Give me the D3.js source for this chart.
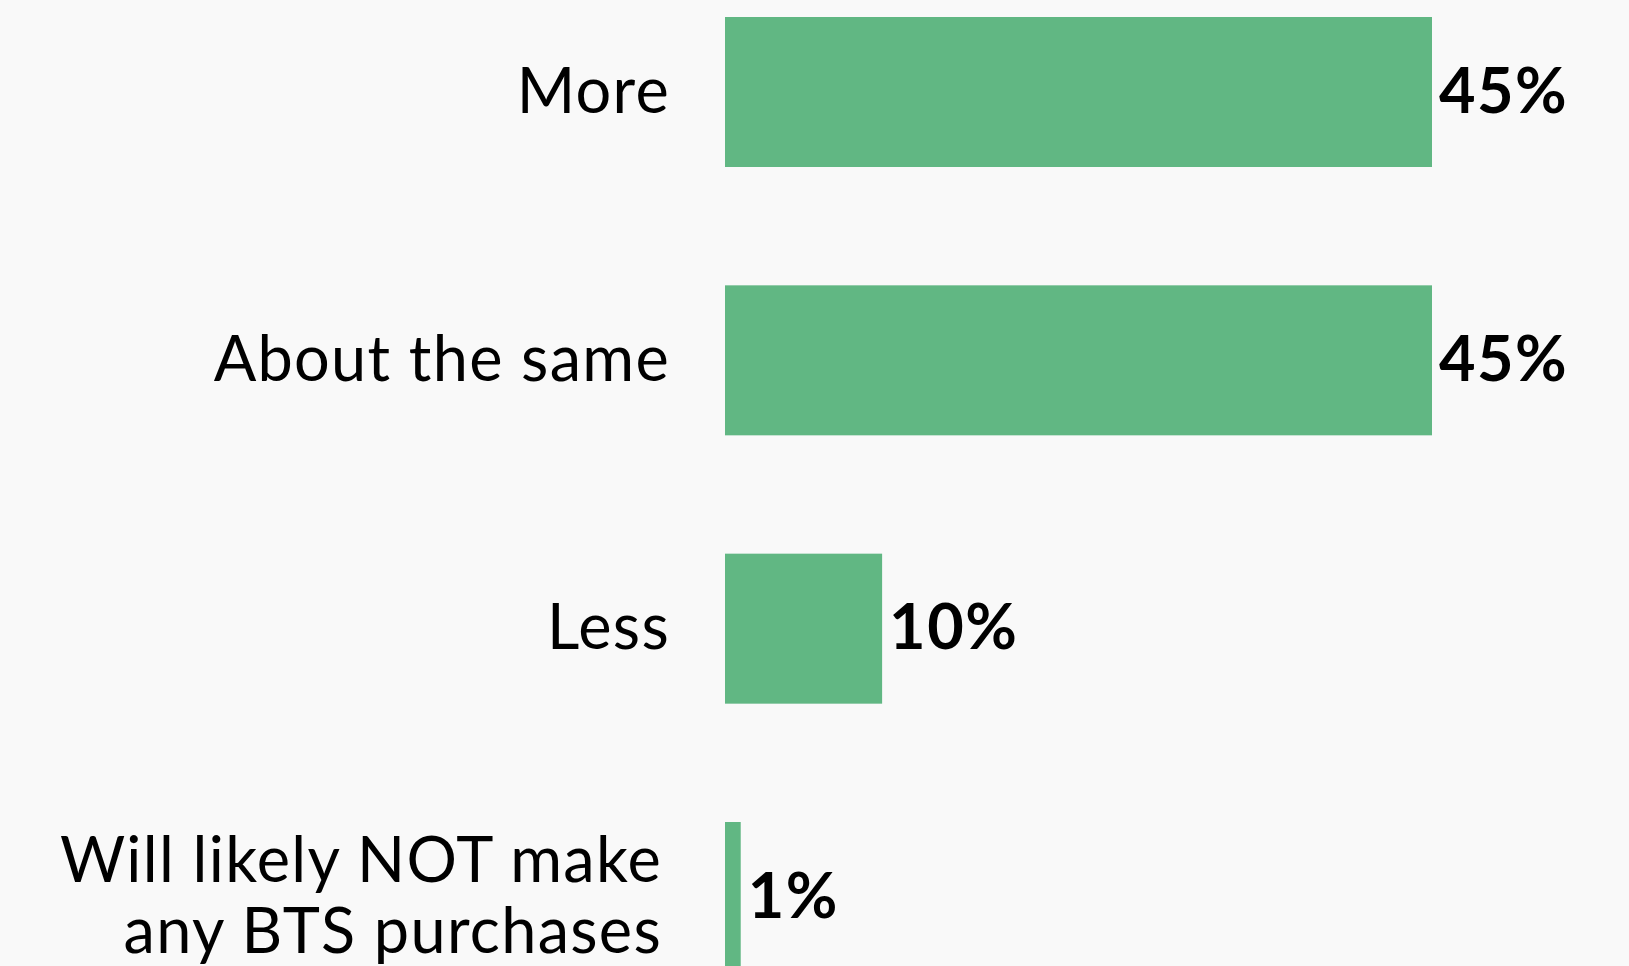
<!DOCTYPE html>
<html>
<head>
<meta charset="utf-8">
<script src="https://cdn.jsdelivr.net/npm/d3@7"></script>
<style>
  html, body { margin: 0; padding: 0; background: #f9f9f9; overflow: hidden; }
  svg { display: block; }
  .cat-label { font-family: Lato, "Open Sans", sans-serif; font-size: 63px; fill: #000; letter-spacing: 1.3px; }
  .val-label { font-family: Lato, "Open Sans", sans-serif; font-size: 63px; font-weight: 700; fill: #000; letter-spacing: 1.5px; }
</style>
</head>
<body>
<svg id="chart"></svg>
<script>
const width = 1629
const height = 966

// data
const categories = ['More', 'About the same', 'Less', 'Will likely NOT make any BTS purchases']
const category_lines = [['More'], ['About the same'], ['Less'], ['Will likely NOT make', 'any BTS purchases']]
const values = [45, 45, 10, 1]
const value_labels = ['45%', '45%', '10%', '1%']

const bar_color = '#61b783'

const svg = d3.select('#chart')
  .attr('width', width)
  .attr('height', height)

const y = d3.scaleBand()
  .domain(categories)
  .range([17, 972])
  .paddingInner(0.441)
  .paddingOuter(0)

const x = d3.scaleLinear()
  .domain([0, d3.max(values)])
  .range([725, 1432])

const rows = categories.map((c, i)=> ({
  name: c, lines: category_lines[i], value: values[i], label: value_labels[i]
}))

svg.selectAll('.bar')
  .data(rows)
  .enter()
  .append('rect')
  .attr('class', 'bar')
  .attr('x', x(0))
  .attr('y', (d)=> y(d.name))
  .attr('width', (d)=> x(d.value) - x(0))
  .attr('height', y.bandwidth())
  .attr('fill', bar_color)

svg.selectAll('.val-label')
  .data(rows)
  .enter()
  .append('text')
  .attr('class', 'val-label')
  .attr('x', (d)=> x(d.value) + 7)
  .attr('y', (d)=> y(d.name) + y.bandwidth() / 2)
  .attr('dy', '0.33em')
  .text((d)=> d.label)

// category labels, wrapped lines centred on the bar
const line_height = 71
const cat = svg.selectAll('.cat-label')
  .data(rows)
  .enter()
  .append('text')
  .attr('class', 'cat-label')
  .attr('text-anchor', 'end')

cat.each(function(d) {
  const cy = y(d.name) + y.bandwidth() / 2
  const first = cy - (d.lines.length - 1) * line_height / 2
  d.lines.forEach((l, i)=> {
    d3.select(this).append('tspan')
      .attr('x', d.lines.length > 1 ? 662 : 670)
      .attr('y', first + i * line_height)
      .attr('dy', '0.33em')
      .text(l)
  })
})
</script>
</body>
</html>
